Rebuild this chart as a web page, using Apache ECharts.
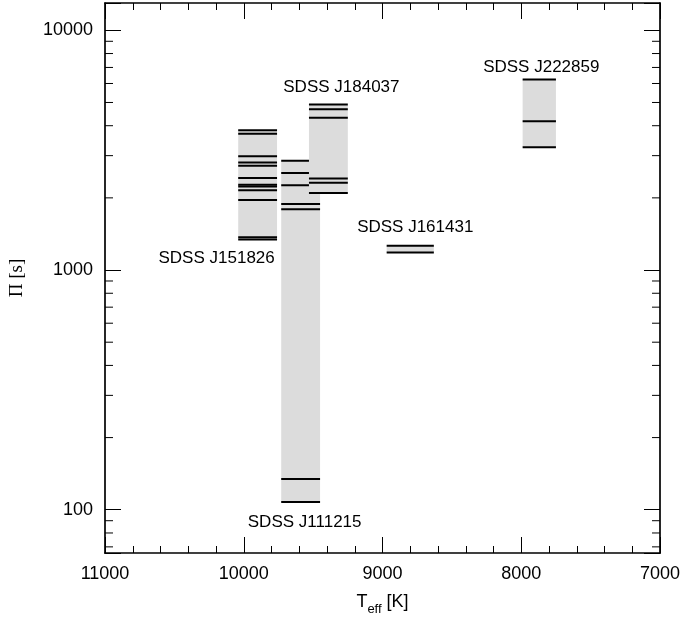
<!DOCTYPE html>
<html><head><meta charset="utf-8">
<script src="https://cdn.jsdelivr.net/npm/echarts@6/dist/echarts.min.js"></script>
<style>html,body{margin:0;padding:0;background:#fff}#c{width:687px;height:621px}</style>
</head><body><div id="c"></div>
<script>
// ---- data ----
const stars = ['SDSS J151826', 'SDSS J111215', 'SDSS J184037', 'SDSS J161431', 'SDSS J222859'];
const teff = [9900, 9590, 9390, 8800, 7870];
const teffErr = [140, 140, 140, 170, 120];
const periodsJ151826 = [3830, 3700, 2980, 2810, 2720, 2420, 2270, 2230, 2150, 1960, 1370, 1340];
const periodsJ111215 = [2855, 2540, 2258, 1885, 1793, 134.3, 107.6];
const periodsJ184037 = [4900, 4680, 4320, 2410, 2310, 2095];
const periodsJ161431 = [1263, 1184];
const periodsJ222859 = [6234, 4178, 3254];
const periods = [periodsJ151826, periodsJ111215, periodsJ184037, periodsJ161431, periodsJ222859];
const labelBelow = [true, true, false, false, false];
const xTickInterval = 1000;
const yMajorLabels = [100, 1000, 10000];
const yMinorTicks = [70, 80, 90, 200, 300, 400, 500, 600, 700, 800, 900,
  2000, 3000, 4000, 5000, 6000, 7000, 8000, 9000];

// ---- label offsets (pixels, relative to box edge centre) ----
const labelOffset = [[-41, 19], [4, 20], [13, -17], [5, -18], [2, -12]];

const chart = echarts.init(document.getElementById('c'), null, {renderer: 'canvas'});
const FONT = 'Liberation Sans, Arial, sans-serif';
const X_MIN = 7000, X_MAX = 11000, Y_MIN = 66, Y_MAX = 13000;

function xAxisCommon(extra) {
  return Object.assign({
    type: 'value', min: X_MIN, max: X_MAX, interval: xTickInterval, inverse: true,
    axisLine: {show: true, lineStyle: {color: '#000', width: 1.7}},
    axisTick: {show: true, inside: true, length: 16, lineStyle: {color: '#000', width: 1}},
    minorTick: {show: true, splitNumber: 5, length: 7, lineStyle: {color: '#000', width: 1}},
    splitLine: {show: false}, minorSplitLine: {show: false}
  }, extra);
}
function yAxisCommon(extra) {
  return Object.assign({
    type: 'log', logBase: 10, min: Y_MIN, max: Y_MAX,
    axisLine: {show: true, lineStyle: {color: '#000', width: 1.7}},
    axisTick: {show: true, inside: true, length: 16, lineStyle: {color: '#000', width: 1}},
    splitLine: {show: false}
  }, extra);
}

const option = {
  backgroundColor: '#fff',
  animation: false,
  grid: {left: 105, right: 27, top: 3, bottom: 65},
  xAxis: [
    xAxisCommon({
      position: 'bottom',
      axisLabel: {show: true, color: '#000', fontSize: 18, fontFamily: FONT, margin: 12,
        formatter: function (v) { return String(Math.round(v)); }},
      name: '{a|T}{b|eff}{a| [K]}',
      nameLocation: 'middle', nameGap: 36,
      nameTextStyle: {
        color: '#000',
        rich: {
          a: {fontSize: 18, fontFamily: FONT, color: '#000'},
          b: {fontSize: 13, fontFamily: FONT, color: '#000', padding: [14, 0, 0, 0]}
        }
      }
    }),
    xAxisCommon({position: 'top', axisLabel: {show: false}})
  ],
  yAxis: [
    yAxisCommon({
      position: 'left',
      axisLabel: {
        show: true, color: '#000', fontSize: 18, fontFamily: FONT, margin: 12,
        formatter: function (v) {
          const r = Math.round(v);
          return yMajorLabels.indexOf(r) >= 0 && Math.abs(v - r) < 1e-3 * r ? String(r) : '';
        }
      },
      name: 'Π [s]', nameLocation: 'middle', nameGap: 78,
      nameTextStyle: {color: '#000', fontSize: 19, fontFamily: 'Liberation Serif, Times New Roman, serif'}
    }),
    yAxisCommon({position: 'right', axisLabel: {show: false}})
  ],
  series: [
    {
      type: 'custom',
      name: 'boxes',
      xAxisIndex: 0, yAxisIndex: 0,
      coordinateSystem: 'cartesian2d',
      data: stars.map((s, i) => [teff[i], Math.max.apply(null, periods[i]), i]),
      encode: {x: 0, y: 1},
      clip: false,
      renderItem: function (params, api) {
        const i = api.value(2);
        const ps = periods[i];
        const lo = teff[i] - teffErr[i], hi = teff[i] + teffErr[i];
        const pmax = Math.max.apply(null, ps), pmin = Math.min.apply(null, ps);
        const a = api.coord([hi, pmax]);
        const b = api.coord([lo, pmin]);
        const x0 = Math.min(a[0], b[0]), x1 = Math.max(a[0], b[0]);
        const y0 = Math.min(a[1], b[1]), y1 = Math.max(a[1], b[1]);
        const children = [{
          type: 'rect',
          shape: {x: x0, y: y0, width: x1 - x0, height: y1 - y0},
          style: {fill: '#dcdcdc'}
        }];
        ps.forEach(function (p) {
          const y = api.coord([teff[i], p])[1];
          children.push({type: 'line', shape: {x1: x0, y1: y, x2: x1, y2: y},
            style: {stroke: '#000', lineWidth: 2}});
        });
        const off = labelOffset[i];
        const cx = api.coord([teff[i], pmax])[0];
        const ey = labelBelow[i] ? y1 : y0;
        children.push({
          type: 'text',
          style: {
            text: stars[i], x: cx + off[0], y: ey + off[1],
            fill: '#000', font: '17px ' + FONT, align: 'center', verticalAlign: 'middle'
          }
        });
        return {type: 'group', children: children};
      },
      z: 1
    },
    {
      type: 'custom',
      name: 'yMinorTicks',
      xAxisIndex: 0, yAxisIndex: 0,
      data: yMinorTicks.map(v => [X_MAX, v]),
      encode: {x: 0, y: 1},
      clip: false,
      renderItem: function (params, api) {
        const v = api.value(1);
        const l = api.coord([X_MAX, v]);
        const r = api.coord([X_MIN, v]);
        return {
          type: 'group', children: [
            {type: 'line', shape: {x1: l[0], y1: l[1], x2: l[0] + 8, y2: l[1]}, style: {stroke: '#000', lineWidth: 1}},
            {type: 'line', shape: {x1: r[0] - 8, y1: r[1], x2: r[0], y2: r[1]}, style: {stroke: '#000', lineWidth: 1}}
          ]
        };
      },
      z: 3
    }
  ]
};
chart.setOption(option);
</script>
</body></html>
